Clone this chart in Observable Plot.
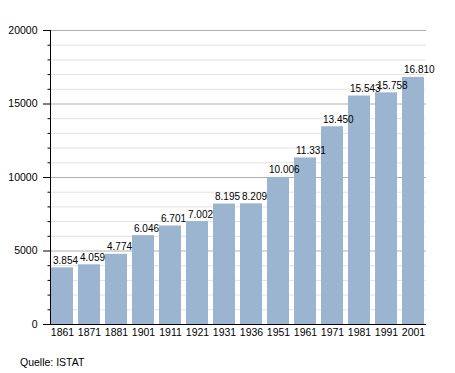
<!DOCTYPE html>
<html>
<head>
<meta charset="utf-8">
<script src="https://cdn.jsdelivr.net/npm/d3@7"></script>
<script src="https://cdn.jsdelivr.net/npm/@observablehq/plot@0.6"></script>
<style>
  body { margin: 0; background: #fff; font-family: "Liberation Sans", Arial, sans-serif; }
  #wrap { position: relative; width: 455px; height: 373px; }
  #caption { position: absolute; left: 20px; top: 356px; font-size: 10.5px; line-height: 12px; color: #000; }
</style>
</head>
<body>
<div id="wrap">
  <div id="chart"></div>
  <div id="caption">Quelle: ISTAT</div>
</div>
<script>
const years = ["1861","1871","1881","1901","1911","1921","1931","1936","1951","1961","1971","1981","1991","2001"];
const population = [3854, 4059, 4774, 6046, 6701, 7002, 8195, 8209, 10006, 11331, 13450, 15543, 15758, 16810];
const majorTicks = [0, 5000, 10000, 15000, 20000];
const minorTicks = [1000, 2000, 3000, 4000, 6000, 7000, 8000, 9000, 11000, 12000, 13000, 14000, 16000, 17000, 18000, 19000];

const data = years.map((y, i) => ({year: y, value: population[i]}));
const fmt = d3.formatLocale({decimal: ",", thousands: ".", grouping: [3], currency: ["", "€"]}).format(",d");

const chart = Plot.plot({
  width: 455,
  height: 350,
  marginTop: 30,
  marginBottom: 26,
  marginLeft: 50,
  marginRight: 29,
  style: {fontFamily: "Liberation Sans, Arial, sans-serif", fontSize: "10px", color: "#000", background: "#fff"},
  x: {domain: years, range: [49, 426], paddingInner: 0.2, paddingOuter: 0, label: null},
  y: {domain: [0, 20000], label: null},
  marks: [
    Plot.ruleY(minorTicks, {stroke: "#e2e2e2", strokeWidth: 1}),
    Plot.ruleY(majorTicks.filter(d => d > 0), {stroke: "#b0b0b0", strokeWidth: 1}),
    Plot.barY(data, {x: "year", y: "value", fill: "#9bb4d0"}),
    Plot.frame({anchor: "left", stroke: "#000"}),
    Plot.ruleY([0], {stroke: "#000"}),
    Plot.axisY({ticks: minorTicks, tickSize: 2.5, text: null, label: null, stroke: "#000"}),
    Plot.axisY({ticks: majorTicks, tickSize: 7, tickPadding: 6, tickFormat: d => String(d), label: null, fontSize: 10.5}),
    Plot.axisX({tickSize: 0, tickPadding: 4, label: null, fontSize: 10.5}),
    Plot.text(data, {x: "year", y: "value", text: d => fmt(d.value), textAnchor: "start", lineAnchor: "bottom", dx: -9.5, dy: -4, fontSize: 10, fill: "#000"})
  ]
});
document.getElementById("chart").appendChild(chart);
</script>
</body>
</html>
